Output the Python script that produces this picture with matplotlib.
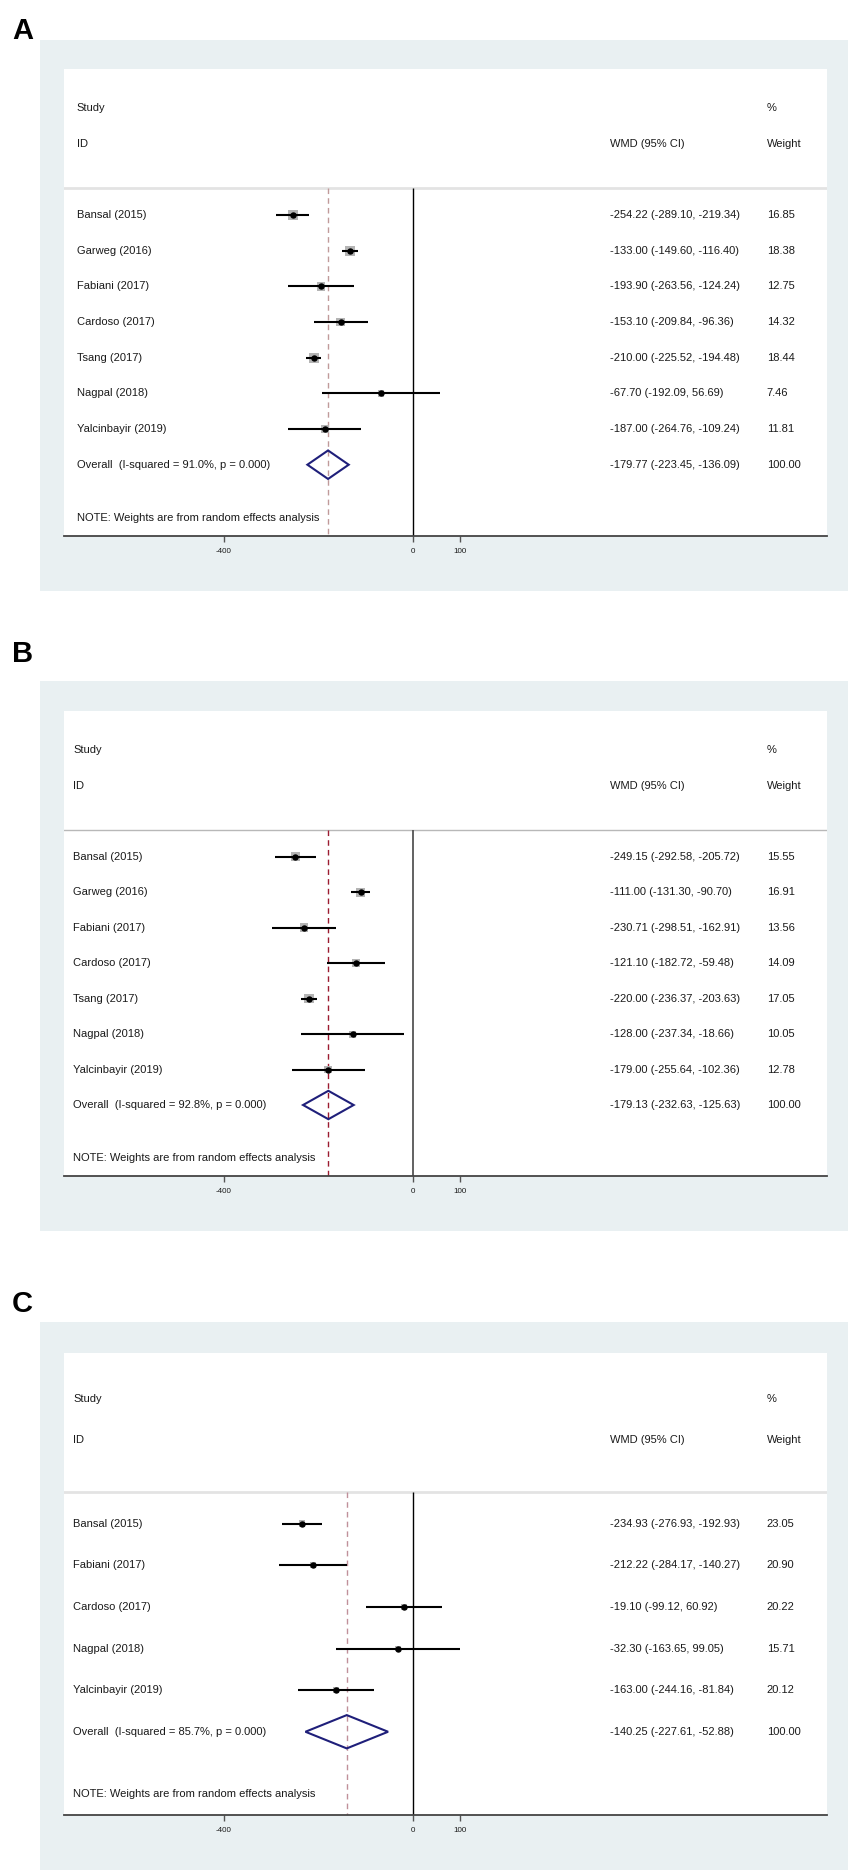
import numpy as np
import matplotlib.pyplot as plt
from matplotlib.patches import Rectangle, Polygon
from matplotlib.transforms import blended_transform_factory

plt.rcParams['font.family'] = ['Liberation Sans', 'DejaVu Sans']

W, H = 854, 1875

# ---- data: panel A ----
studies_a = ['Bansal (2015)', 'Garweg (2016)', 'Fabiani (2017)', 'Cardoso (2017)',
             'Tsang (2017)', 'Nagpal (2018)', 'Yalcinbayir (2019)']
est_a = [-254.22, -133.00, -193.90, -153.10, -210.00, -67.70, -187.00]
lo_a = [-289.10, -149.60, -263.56, -209.84, -225.52, -192.09, -264.76]
hi_a = [-219.34, -116.40, -124.24, -96.36, -194.48, 56.69, -109.24]
wt_a = [16.85, 18.38, 12.75, 14.32, 18.44, 7.46, 11.81]
overall_a = [-179.77, -223.45, -136.09]
isq_a = '91.0%'

# ---- data: panel B ----
studies_b = studies_a
est_b = [-249.15, -111.00, -230.71, -121.10, -220.00, -128.00, -179.00]
lo_b = [-292.58, -131.30, -298.51, -182.72, -236.37, -237.34, -255.64]
hi_b = [-205.72, -90.70, -162.91, -59.48, -203.63, -18.66, -102.36]
wt_b = [15.55, 16.91, 13.56, 14.09, 17.05, 10.05, 12.78]
overall_b = [-179.13, -232.63, -125.63]
isq_b = '92.8%'

# ---- data: panel C ----
studies_c = ['Bansal (2015)', 'Fabiani (2017)', 'Cardoso (2017)', 'Nagpal (2018)',
             'Yalcinbayir (2019)']
est_c = [-234.93, -212.22, -19.10, -32.30, -163.00]
lo_c = [-276.93, -284.17, -99.12, -163.65, -244.16]
hi_c = [-192.93, -140.27, 60.92, 99.05, -81.84]
wt_c = [23.05, 20.90, 20.22, 15.71, 20.12]
overall_c = [-140.25, -227.61, -52.88]
isq_c = '85.7%'

xticks = [-400, 0, 100]

BG = '#e9f0f2'
NAVY = '#1f1f7a'
TXT = '#1a1a1a'


def frac(x0, y0, x1, y1):
    # pixel box (top-based) -> figure fraction rect
    return [x0 / W, 1 - y1 / H, (x1 - x0) / W, (y1 - y0) / H]


def draw_panel(fig, label, studies, est, lo, hi, wt, overall, isq, lay, sty):
    g_top, w_top, ax_y, lab_base = lay
    fig.add_artist(Rectangle((40 / W, 1 - (ax_y + 55) / H), (848 - 40) / W,
                             (ax_y + 55 - g_top) / H, transform=fig.transFigure,
                             fc=BG, ec='none', zorder=0))
    fig.text(12 / W, 1 - lab_base / H, label, fontsize=21, fontweight='bold',
             ha='left', va='baseline')

    ax = fig.add_axes(frac(64, w_top, 827, ax_y))
    ax.set_facecolor('white')
    n = len(studies)
    rows = np.arange(n)
    ybot = n + 2.0
    ax.set_xlim(-738, 875)
    ax.set_ylim(ybot, -4.1)
    sep = -0.75

    tr = blended_transform_factory(ax.transAxes, ax.transData)
    lx = sty['lx']
    fs = 8
    ax.text(lx, -3, 'Study', transform=tr, fontsize=fs, color=TXT, va='center')
    ax.text(lx, -2, 'ID', transform=tr, fontsize=fs, color=TXT, va='center')
    ax.text(0.716, -2, 'WMD (95% CI)', transform=tr, fontsize=fs, color=TXT, va='center')
    ax.text(0.921, -3, '%', transform=tr, fontsize=fs, color=TXT, va='center')
    ax.text(0.921, -2, 'Weight', transform=tr, fontsize=fs, color=TXT, va='center')

    ax.axhline(sep, color=sty['sep_c'], lw=sty['sep_w'], zorder=1)
    ax.vlines(0, sep, ybot, color=sty['zero_c'], lw=sty['zero_w'], zorder=1)
    ax.vlines(overall[0], sep, ybot, color=sty['dash_c'], lw=1.0,
              linestyles=(0, (4, 3)), zorder=1)

    side = sty['k'] * np.sqrt(np.array(wt)) * 0.72
    ax.scatter(est, rows, marker='s', s=side ** 2, color='#b4b4b4', lw=0, zorder=2)
    ax.hlines(rows, lo, hi, color='black', lw=1.5, zorder=3)
    ax.plot(est, rows, 'o', ms=3.6, color='black', zorder=4)

    for i in range(n):
        ax.text(lx, i, studies[i], transform=tr, fontsize=fs, color=TXT, va='center')
        ax.text(0.716, i, f'{est[i]:.2f} ({lo[i]:.2f}, {hi[i]:.2f})', transform=tr,
                fontsize=fs, color=TXT, va='center')
        ax.text(0.921, i, f'{wt[i]:.2f}', transform=tr, fontsize=fs, color=TXT,
                va='center')

    oe, ol, oh = overall
    ax.add_patch(Polygon([[ol, n], [oe, n - 0.4], [oh, n], [oe, n + 0.4]], closed=True,
                         fill=False, ec=NAVY, lw=1.5, zorder=4))
    ax.text(lx, n, f'Overall  (I-squared = {isq}, p = 0.000)', transform=tr,
            fontsize=fs, color=TXT, va='center')
    ax.text(0.716, n, f'{oe:.2f} ({ol:.2f}, {oh:.2f})', transform=tr, fontsize=fs,
            color=TXT, va='center')
    ax.text(0.921, n, '100.00', transform=tr, fontsize=fs, color=TXT, va='center')
    ax.text(lx, n + 1.5, 'NOTE: Weights are from random effects analysis', transform=tr,
            fontsize=fs, color=TXT, va='center')

    for s in ['left', 'right', 'top']:
        ax.spines[s].set_visible(False)
    ax.spines['bottom'].set_color('#444444')
    ax.spines['bottom'].set_linewidth(1.3)
    ax.set_yticks([])
    ax.set_xticks(xticks)
    ax.set_xticklabels([str(t) for t in xticks])
    ax.tick_params(axis='x', length=4.5, width=1, color='#555555', labelsize=5.8,
                   pad=4, labelcolor=TXT)
    return ax


fig = plt.figure(figsize=(W / 100, H / 100), dpi=100)
fig.patch.set_facecolor('white')

style_a = dict(lx=0.017, sep_c='#e3e3e3', sep_w=2.0, zero_c='black', zero_w=1.0,
               dash_c='#c09a9a', k=2.3)
style_b = dict(lx=0.012, sep_c='#b8b8b8', sep_w=1.0, zero_c='#555555', zero_w=1.3,
               dash_c='#9b1b30', k=2.2)
style_c = dict(lx=0.012, sep_c='#e3e3e3', sep_w=2.0, zero_c='black', zero_w=1.0,
               dash_c='#c0909a', k=1.4)

draw_panel(fig, 'A', studies_a, est_a, lo_a, hi_a, wt_a, overall_a, isq_a,
           (40, 69, 536, 39), style_a)
draw_panel(fig, 'B', studies_b, est_b, lo_b, hi_b, wt_b, overall_b, isq_b,
           (681, 711, 1176, 662), style_b)
draw_panel(fig, 'C', studies_c, est_c, lo_c, hi_c, wt_c, overall_c, isq_c,
           (1322, 1353, 1815, 1312), style_c)

fig.savefig('out.png', dpi=100)
